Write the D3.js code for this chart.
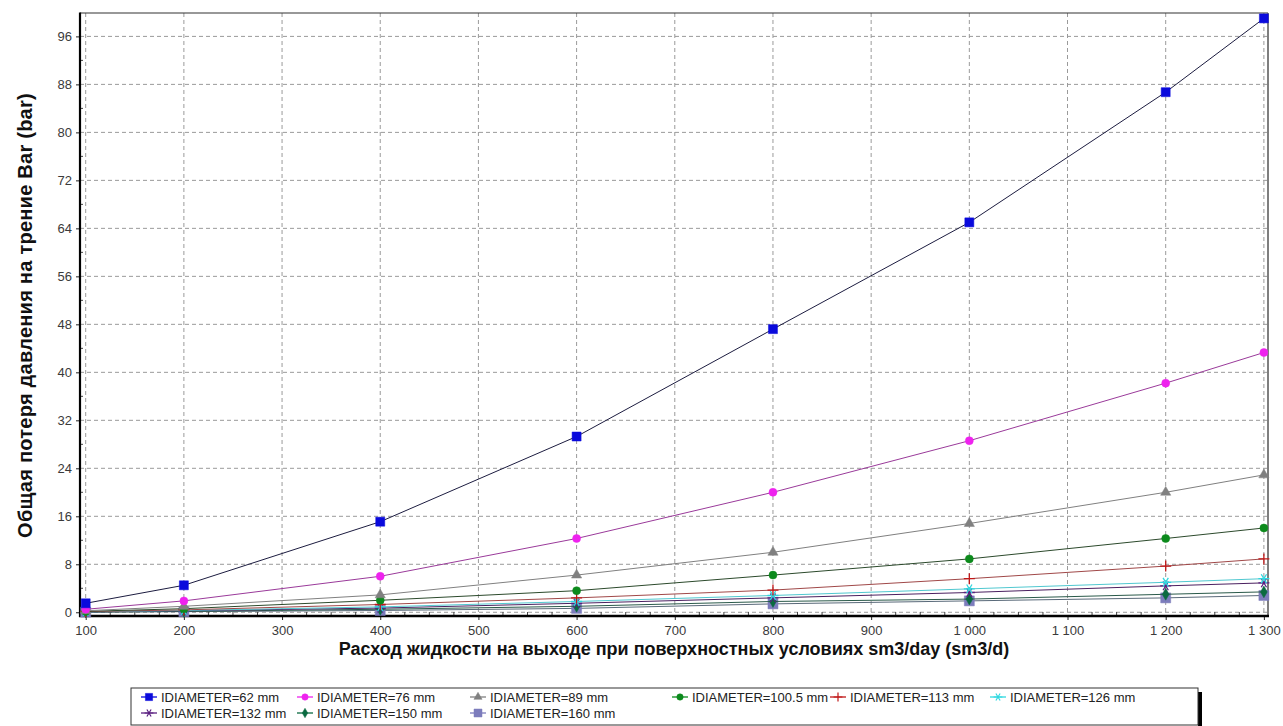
<!DOCTYPE html>
<html><head><meta charset="utf-8">
<script src="https://cdn.jsdelivr.net/npm/d3@7"></script>
<style>
body{margin:0;background:#fff;}
svg{display:block;font-family:"Liberation Sans",Arial,sans-serif;}
</style></head>
<body><svg id="c" width="1283" height="726"></svg>
<script>
const xValues = [100, 200, 400, 600, 800, 1000, 1200, 1300];
const d62   = [1.5, 4.5, 15.1, 29.3, 47.2, 65.0, 86.7, 99.0];
const d76   = [0.5, 1.9, 6.0, 12.3, 20.0, 28.6, 38.2, 43.3];
const d89   = [0.25, 1.0, 2.9, 6.2, 10.0, 14.8, 20.0, 22.9];
const d100  = [0.15, 0.6, 2.0, 3.6, 6.2, 8.9, 12.3, 14.05];
const d113  = [0.1, 0.4, 1.3, 2.4, 3.7, 5.6, 7.7, 8.9];
const d126  = [0.08, 0.3, 0.9, 1.8, 2.8, 3.9, 5.0, 5.6];
const d132  = [0.06, 0.25, 0.7, 1.5, 2.4, 3.3, 4.4, 4.9];
const d150  = [0.04, 0.15, 0.5, 1.0, 1.8, 2.2, 3.0, 3.4];
const d160  = [0.03, 0.1, 0.3, 0.65, 1.4, 1.9, 2.4, 2.8];
const seriesNames = ["IDIAMETER=62 mm","IDIAMETER=76 mm","IDIAMETER=89 mm","IDIAMETER=100.5 mm","IDIAMETER=113 mm","IDIAMETER=126 mm","IDIAMETER=132 mm","IDIAMETER=150 mm","IDIAMETER=160 mm"];
const seriesValues = [d62, d76, d89, d100, d113, d126, d132, d150, d160];
const xTicks = [100,200,300,400,500,600,700,800,900,1000,1100,1200,1300];
const yTicks = [0,8,16,24,32,40,48,56,64,72,80,88,96];
const xTitle = "Расход жидкости на выходе при поверхностных условиях sm3/day (sm3/d)";
const yTitle = "Общая потеря давления на трение Bar (bar)";

const styles = [
  {marker:"square", fill:"#0a0adc", stroke:"#0a0adc", line:"#1c1c40", size:9},
  {marker:"circle", fill:"#ee22ee", stroke:"#ee22ee", line:"#9a3a9a", size:8},
  {marker:"triangle", fill:"#808080", stroke:"#808080", line:"#808080", size:10},
  {marker:"circle", fill:"#0c8a1c", stroke:"#0c8a1c", line:"#2c4a2c", size:8},
  {marker:"plus", fill:"none", stroke:"#c01818", line:"#a04848", size:11},
  {marker:"aster", fill:"none", stroke:"#30d8e0", line:"#50c8d0", size:11},
  {marker:"aster", fill:"none", stroke:"#5a2080", line:"#4a2060", size:11},
  {marker:"diamond", fill:"#0a6a40", stroke:"#0a6a40", line:"#2a5a4a", size:9},
  {marker:"square", fill:"#7c7cbc", stroke:"#7c7cbc", line:"#5a6a7a", size:10}
];

const svg = d3.select("#c");
const L=80, R=1268, T=13, B=616;
const x = d3.scaleLinear().domain([94.2, 1304.2]).range([L, R]);
const y = d3.scaleLinear().domain([-0.62, 99.9]).range([B, T]);

// grid
const grid = svg.append("g");
grid.selectAll("line.vg").data(xTicks).enter().append("line")
  .attr("x1", d=>x(d)).attr("x2", d=>x(d)).attr("y1", T).attr("y2", B)
  .attr("stroke", "#9a9a9a").attr("stroke-dasharray", "4,3").attr("stroke-width", 1);
grid.selectAll("line.hg").data(yTicks).enter().append("line")
  .attr("x1", L).attr("x2", R).attr("y1", d=>y(d)).attr("y2", d=>y(d))
  .attr("stroke", "#9a9a9a").attr("stroke-dasharray", "4,3").attr("stroke-width", 1);

// axes
const fmt = d => d >= 1000 ? d3.format(",")(d).replace(",", "\u00a0") : String(d);
const xAxis = svg.append("g").attr("transform", `translate(0,${B})`)
  .call(d3.axisBottom(x).tickValues(xTicks).tickFormat(fmt).tickSize(4).tickPadding(6));
const yAxis = svg.append("g").attr("transform", `translate(${L},0)`)
  .call(d3.axisLeft(y).tickValues(yTicks).tickSize(4).tickPadding(4));
[xAxis, yAxis].forEach(g => {
  g.select(".domain").remove();
  g.selectAll("text").attr("font-size", 13).attr("fill", "#3a3a3a").attr("font-family", "Liberation Sans, Arial");
  g.selectAll("line").attr("stroke", "#222");
});
// minor ticks
const xMinor = d3.range(100, 1301, 25).filter(v => v % 100 !== 0);
svg.append("g").selectAll("line").data(xMinor).enter().append("line")
  .attr("x1", d=>x(d)).attr("x2", d=>x(d)).attr("y1", B).attr("y2", B-4).attr("stroke", "#444");
const yMinor = d3.range(4, 100, 8);
svg.append("g").selectAll("line").data(yMinor).enter().append("line")
  .attr("x1", L).attr("x2", L+3).attr("y1", d=>y(d)).attr("y2", d=>y(d)).attr("stroke", "#444");

// frame
svg.append("line").attr("x1", L).attr("x2", R).attr("y1", T).attr("y2", T).attr("stroke", "#333").attr("stroke-width", 1.2);
svg.append("line").attr("x1", R).attr("x2", R).attr("y1", T).attr("y2", B).attr("stroke", "#555").attr("stroke-width", 1.5);
svg.append("line").attr("x1", L).attr("x2", L).attr("y1", T-0.5).attr("y2", B+1).attr("stroke", "#000").attr("stroke-width", 2.2);
svg.append("line").attr("x1", L-1).attr("x2", R+1).attr("y1", B).attr("y2", B).attr("stroke", "#000").attr("stroke-width", 2.5);

function markerPath(type, s) {
  const h = s/2;
  if (type === "plus") return `M${-h},0L${h},0M0,${-h}L0,${h}`;
  if (type === "aster") {
    const a = h*0.8;
    return `M${-h},0L${h},0M${-a*0.6},${-a}L${a*0.6},${a}M${-a*0.6},${a}L${a*0.6},${-a}`;
  }
  if (type === "square") return d3.symbol(d3.symbolSquare, s*s)();
  if (type === "circle") return d3.symbol(d3.symbolCircle, Math.PI*h*h)();
  if (type === "triangle") return d3.symbol(d3.symbolTriangle, s*s*0.45)();
  if (type === "diamond") return d3.symbol(d3.symbolDiamond, s*s*0.5)();
}

const line = d3.line().x(d=>x(d[0])).y(d=>y(d[1]));
const plot = svg.append("g");
for (let i = seriesValues.length-1; i >= 0; i--) {
  const pts = xValues.map((xv, j) => [xv, seriesValues[i][j]]);
  const st = styles[i];
  plot.append("path").datum(pts).attr("d", line).attr("fill", "none")
    .attr("stroke", st.line).attr("stroke-width", 1);
  plot.selectAll(null).data(pts).enter().append("path")
    .attr("transform", d=>`translate(${x(d[0])},${y(d[1])})`)
    .attr("d", markerPath(st.marker, st.size))
    .attr("fill", st.fill).attr("stroke", st.stroke)
    .attr("stroke-width", st.fill === "none" ? 1.3 : 0.5);
}

// titles
svg.append("text").attr("x", (L+R)/2).attr("y", 655).attr("text-anchor", "middle")
  .attr("font-size", 18).attr("font-weight", "bold").attr("fill", "#111").text(xTitle);
svg.append("text").attr("transform", `translate(32,${(T+B)/2+1}) rotate(-90)`).attr("text-anchor", "middle")
  .attr("font-size", 20).attr("letter-spacing", 0.25).attr("font-weight", "bold").attr("fill", "#111").text(yTitle);

// legend
const lg = svg.append("g");
const LX0 = 131, LX1 = 1198, LY0 = 688, LY1 = 725;
lg.append("rect").attr("x", LX1).attr("y", LY0+4).attr("width", 4).attr("height", LY1-LY0).attr("fill", "#000");
lg.append("rect").attr("x", LX0).attr("y", LY0).attr("width", LX1-LX0).attr("height", LY1-LY0)
  .attr("fill", "#fff").attr("stroke", "#333").attr("stroke-width", 1);
const colX = [141, 297, 470, 672, 830, 990];
seriesNames.forEach((name, i) => {
  const col = i < 6 ? i : i - 6;
  const row = i < 6 ? 0 : 1;
  const cx = colX[col], cy = 697 + row*16;
  const st = styles[i];
  lg.append("line").attr("x1", cx).attr("x2", cx+16).attr("y1", cy).attr("y2", cy)
    .attr("stroke", st.stroke).attr("stroke-width", 1.3);
  lg.append("path").attr("transform", `translate(${cx+8},${cy})`)
    .attr("d", markerPath(st.marker, st.size*0.8))
    .attr("fill", st.fill).attr("stroke", st.stroke).attr("stroke-width", st.fill === "none" ? 1.2 : 0.5);
  lg.append("text").attr("x", cx+20).attr("y", cy+4.5).attr("font-size", 13).attr("fill", "#222")
    .text(name);
});
</script></body></html>
